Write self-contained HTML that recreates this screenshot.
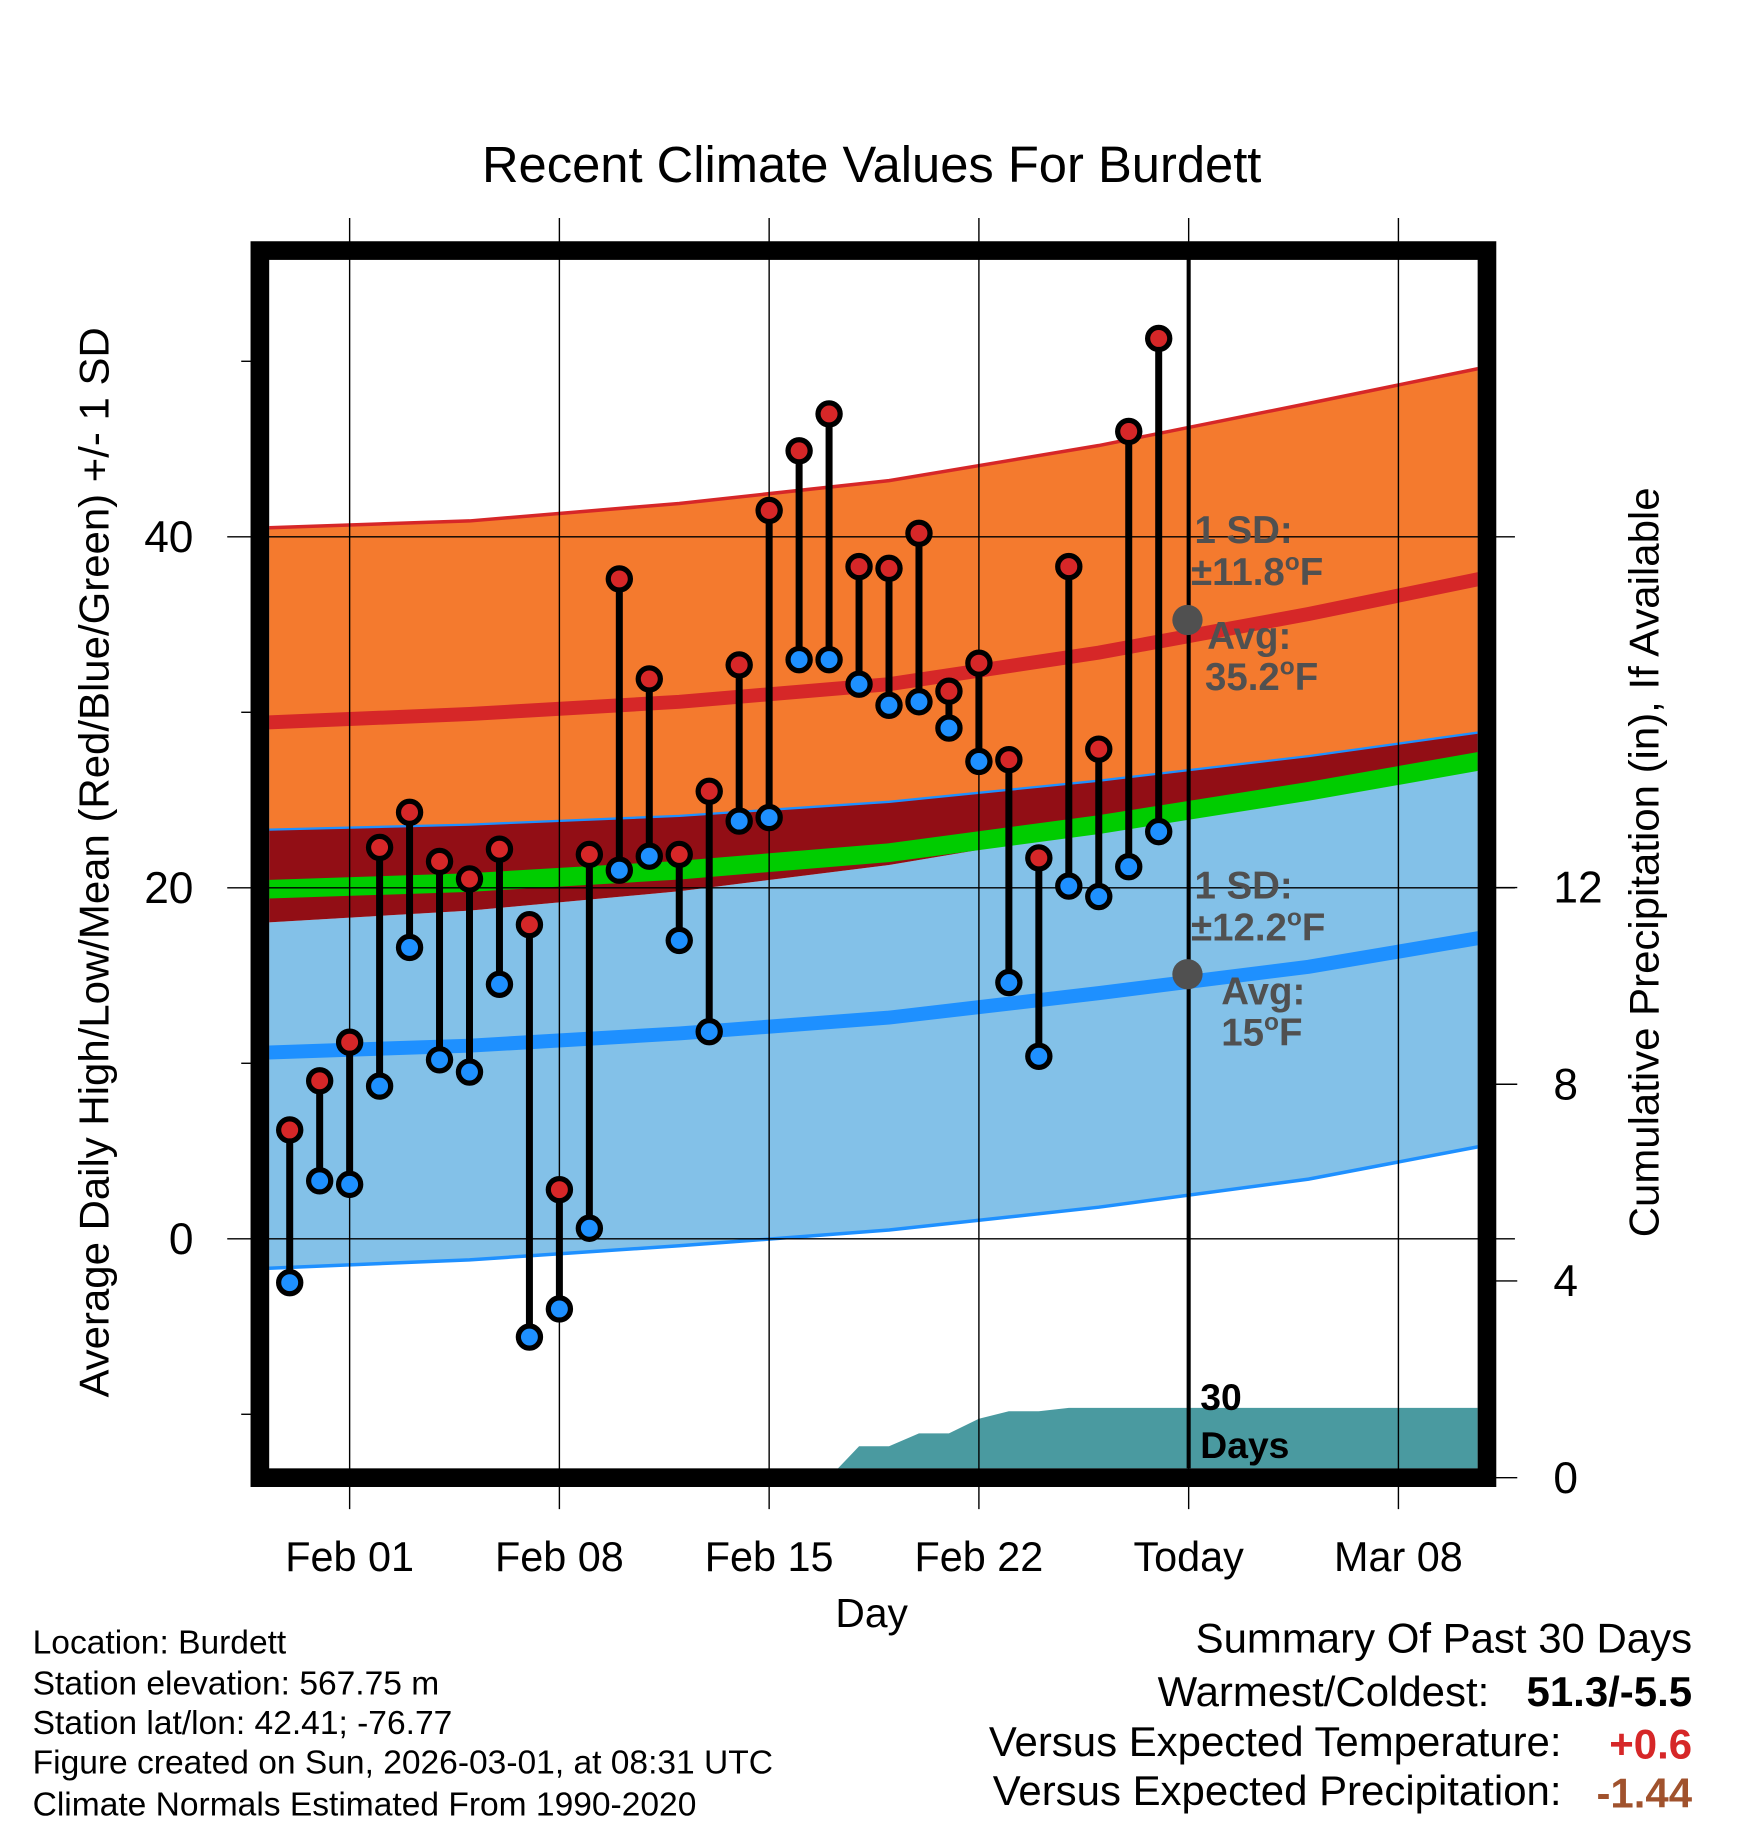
<!DOCTYPE html>
<html><head><meta charset="utf-8"><style>
html,body{margin:0;padding:0;background:#fff;}
svg{display:block;font-family:"Liberation Sans",sans-serif;}
</style></head><body>
<svg id="chart" width="1748" height="1828" viewBox="0 0 1500 1568.6" xmlns="http://www.w3.org/2000/svg">
<defs><clipPath id="pc"><rect x="231" y="222" width="1037" height="1038"/></clipPath></defs>
<rect width="1500" height="1568.6" fill="#fff"/>
<text x="748" y="156" font-size="43.5" text-anchor="middle">Recent Climate Values For Burdett</text>
<g id="bands" clip-path="url(#pc)"></g>
<g id="grid"></g>
<g id="marks" clip-path="url(#pc)"></g>
<g id="annot" fill="#505050" font-weight="bold" font-size="33">
<circle cx="1019" cy="532" r="13" fill="#505050"/>
<circle cx="1019" cy="836" r="13" fill="#505050"/>
<text x="1025" y="466">1 SD:</text>
<text x="1022" y="502">±11.8<tspan font-size="21" dy="-13">o</tspan><tspan dy="13">F</tspan></text>
<text x="1036" y="557">Avg:</text>
<text x="1034" y="592">35.2<tspan font-size="21" dy="-13">o</tspan><tspan dy="13">F</tspan></text>
<text x="1025" y="771">1 SD:</text>
<text x="1022" y="807">±12.2<tspan font-size="21" dy="-13">o</tspan><tspan dy="13">F</tspan></text>
<text x="1048" y="862">Avg:</text>
<text x="1048" y="897">15<tspan font-size="21" dy="-13">o</tspan><tspan dy="13">F</tspan></text>
</g>
<text x="1030" y="1210" font-size="32" font-weight="bold">30</text>
<text x="1030" y="1251" font-size="32" font-weight="bold">Days</text>
<rect x="223" y="215" width="1053" height="1053" fill="none" stroke="#000" stroke-width="16"/>
<text x="748" y="1396" font-size="35" text-anchor="middle">Day</text>
<text transform="translate(93,740) rotate(-90)" font-size="36" text-anchor="middle">Average Daily High/Low/Mean (Red/Blue/Green) +/- 1 SD</text>
<text transform="translate(1423,740) rotate(-90)" font-size="36" text-anchor="middle">Cumulative Precipitation (in), If Available</text>
<g font-size="28.8">
<text x="28" y="1419">Location: Burdett</text>
<text x="28" y="1454">Station elevation: 567.75 m</text>
<text x="28" y="1488">Station lat/lon: 42.41; -76.77</text>
<text x="28" y="1522">Figure created on Sun, 2026-03-01, at 08:31 UTC</text>
<text x="28" y="1558">Climate Normals Estimated From 1990-2020</text>
</g>
<g font-size="36" text-anchor="end">
<text x="1452" y="1418">Summary Of Past 30 Days</text>
<text x="1278" y="1464">Warmest/Coldest:</text>
<text x="1452" y="1464" font-weight="bold">51.3/-5.5</text>
<text x="1340" y="1507">Versus Expected Temperature:</text>
<text x="1452" y="1509" font-weight="bold" fill="#d62728">+0.6</text>
<text x="1340" y="1549">Versus Expected Precipitation:</text>
<text x="1452" y="1551" font-weight="bold" fill="#a0522d">-1.44</text>
</g>
</svg>
<script>
// daily data, day index 0 = Jan 30
const highs=[6.2,9,11.2,22.3,24.3,21.5,20.5,22.2,17.9,2.8,21.9,37.6,31.9,21.9,25.5,32.7,41.5,44.9,47,38.3,38.2,40.2,31.2,32.8,27.3,21.7,38.3,27.9,46.0,51.3];
const lows=[-2.5,3.3,3.1,8.7,16.6,10.2,9.5,14.5,-5.6,-4,0.6,21,21.8,17,11.8,23.8,24,33,33,31.6,30.4,30.6,29.1,27.2,14.6,10.4,20.1,19.5,21.2,23.2];
// normals sampled at day indices
const normDays=[-1,6,13,20,27,34,42];
const highAvg=[29.4,29.9,30.6,31.6,33.4,35.6,38.4];
const highTop=[40.5,40.9,41.9,43.2,45.2,47.6,50.4];
const highBot=[23.3,23.6,24.1,24.9,26.1,27.5,29.4];
const lowAvg=[10.6,11.0,11.7,12.6,14.0,15.5,17.8];
const lowTop=[18.0,18.7,19.8,21.3,23.3,25.3,27.3];
const lowBot=[-1.7,-1.2,-0.4,0.5,1.8,3.4,6.0];
const meanVals=[19.9,20.3,21.0,22.0,23.6,25.5,27.9];
const precipDays=[17,18,19,20,21,22,23,24,25,26,27,28,29,30,42];
const precipVals=[0,0,0.64,0.64,0.9,0.9,1.2,1.35,1.35,1.42,1.42,1.42,1.42,1.42,1.42];
const xTickDays=[2,9,16,23,30,37];
const xTickLabels=["Feb 01","Feb 08","Feb 15","Feb 22","Today","Mar 08"];
const yTicks=[0,20,40];
const yMinor=[-10,10,30,50];
const pTicks=[0,4,8,12];

const NS="http://www.w3.org/2000/svg";
const X=d=>248.6+d*25.714;
const Y=v=>1063-v*15.06;
const P=v=>1268-v*42.2;
function mk(tag,attrs,parent){const e=document.createElementNS(NS,tag);for(const k in attrs)e.setAttribute(k,attrs[k]);parent.appendChild(e);return e;}
const bands=document.getElementById('bands'),grid=document.getElementById('grid'),marks=document.getElementById('marks');
function pts(arr,days,f){days=days||normDays;f=f||Y;return arr.map((v,i)=>X(days[i]).toFixed(1)+','+f(v).toFixed(1));}
function area(top,bot,fill,name){const p=pts(top).concat(pts(bot).reverse());const e=mk('polygon',{points:p.join(' '),fill:fill},bands);

}
function line(arr,stroke,w,name){const e=mk('polyline',{points:pts(arr).join(' '),fill:'none',stroke:stroke,'stroke-width':w},bands);

}
area(highTop,highBot,'#f47a2e','high-sd-band');
area(lowTop,lowBot,'#83c1e8','low-sd-band');
area(highBot,lowTop,'#920e15','overlap-band');
line(highTop,'#d62728',3,'high-sd-top-line');
line(highBot,'#1e90ff',2,'high-sd-bottom-line');
line(lowBot,'#1e90ff',3,'low-sd-bottom-line');
line(meanVals,'#00cc00',16,'mean-line');
line(highAvg,'#d62728',12,'high-avg-line');
line(lowAvg,'#1e90ff',12,'low-avg-line');
{const p=pts(precipVals,precipDays,P);p.push(X(42)+','+P(0),X(17)+','+P(0));
const e=mk('polygon',{points:p.join(' '),fill:'#4a9aa0'},bands);

}
xTickDays.forEach((d,i)=>{const x=X(d);
const g=mk('line',{x1:x,x2:x,y1:187,y2:1295,stroke:'#000','stroke-width':1.2},grid);


const t=mk('text',{x:x,y:1348,'font-size':35.5,'text-anchor':'middle'},grid);t.textContent=xTickLabels[i];

});
yTicks.forEach(v=>{const y=Y(v);
const g=mk('line',{x1:195,x2:1300,y1:y,y2:y,stroke:'#000','stroke-width':1.2},grid);


const t=mk('text',{x:166,y:y+13,'font-size':38,'text-anchor':'end'},grid);t.textContent=v;

});
yMinor.forEach(v=>{const y=Y(v);const g=mk('line',{x1:207,x2:216,y1:y,y2:y,stroke:'#000','stroke-width':1.2},grid);

});
pTicks.forEach(v=>{const y=P(v);const g=mk('line',{x1:1276,x2:1302,y1:y,y2:y,stroke:'#000','stroke-width':1.2},grid);


const t=mk('text',{x:1333,y:y+13,'font-size':38},grid);t.textContent=v;

});
{const e=mk('line',{x1:X(30),x2:X(30),y1:222,y2:1260,stroke:'#000','stroke-width':3.5},marks);

}
highs.forEach((h,i)=>{const x=X(i);
const s=mk('line',{x1:x,x2:x,y1:Y(h),y2:Y(lows[i]),stroke:'#000','stroke-width':6},marks);

});
highs.forEach((h,i)=>{const x=X(i);
const a=mk('circle',{cx:x,cy:Y(h),r:9.5,fill:'#d62728',stroke:'#000','stroke-width':4.5},marks);


const b=mk('circle',{cx:x,cy:Y(lows[i]),r:9.5,fill:'#1e90ff',stroke:'#000','stroke-width':4.5},marks);

});
</script>
</body></html>
